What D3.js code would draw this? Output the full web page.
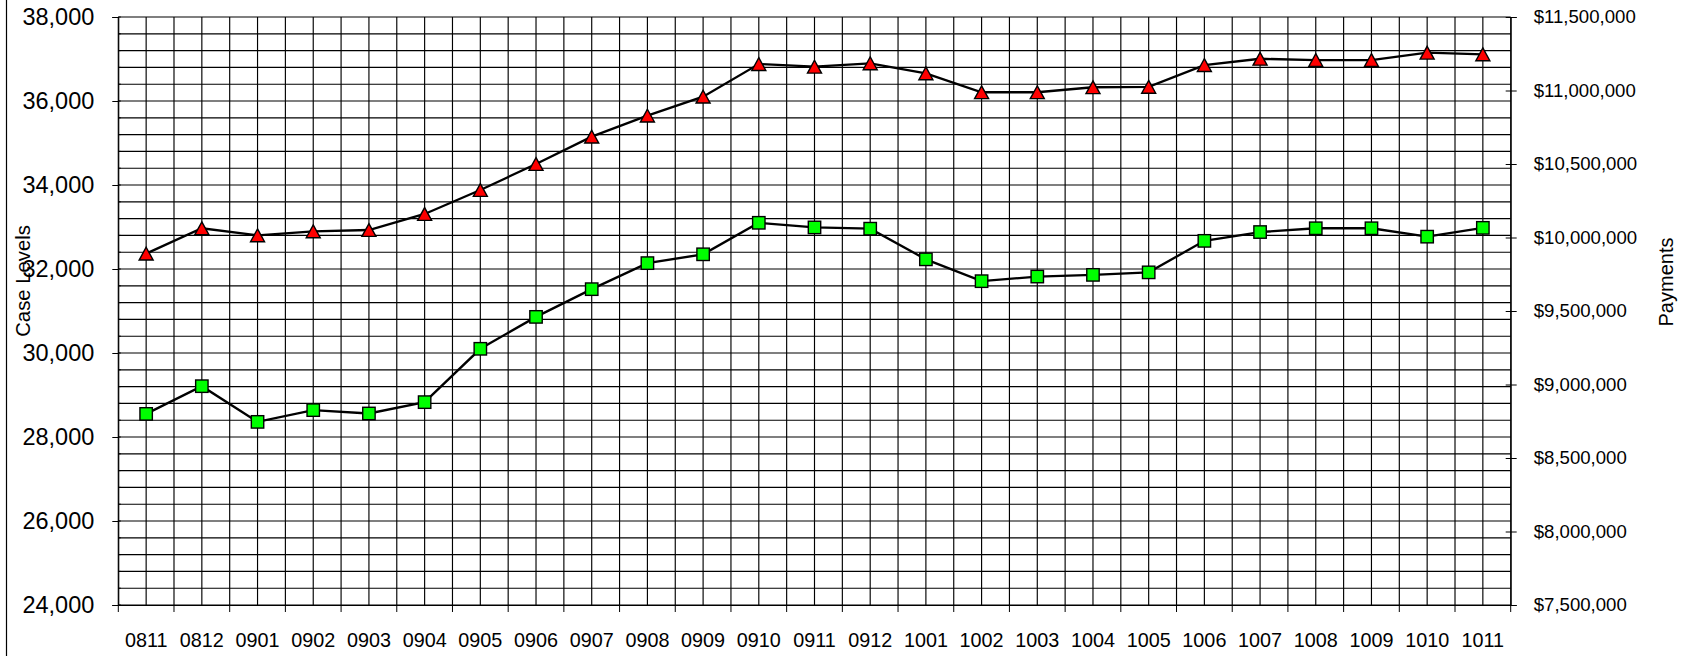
<!DOCTYPE html>
<html>
<head>
<meta charset="utf-8">
<script src="https://cdn.jsdelivr.net/npm/d3@7"></script>
<style>
  html, body { margin: 0; padding: 0; background: #fff; }
  svg { display: block; font-family: "Liberation Sans", Arial, sans-serif; }
</style>
</head>
<body>
<svg id="chart" width="1686" height="656"></svg>
<script>
// ---- data ----
const categories = ["0811","0812","0901","0902","0903","0904","0905","0906","0907","0908","0909","0910","0911","0912","1001","1002","1003","1004","1005","1006","1007","1008","1009","1010","1011"];
// Case levels (left axis, green squares)
const caseLevels = [28550,29210,28360,28640,28560,28830,30100,30860,31520,32140,32350,33100,32990,32960,32230,31710,31820,31860,31920,32670,32880,32970,32970,32770,32980];
// Payments (right axis, red triangles)
const payments = [9890000,10063000,10015000,10042000,10051000,10160000,10323000,10500000,10686000,10829000,10958000,11180000,11162000,11185000,11117000,10988000,10988000,11022000,11025000,11173000,11216000,11207000,11207000,11257000,11246000];
const leftTicks = [24000,26000,28000,30000,32000,34000,36000,38000];
const rightTicks = [7500000,8000000,8500000,9000000,9500000,10000000,10500000,11000000,11500000];
const leftTitle = "Case Levels";
const rightTitle = "Payments";

// ---- layout ----
const plot = {left: 118.3, right: 1510.7, top: 17, bottom: 605};
const svg = d3.select("#chart");

const x = d3.scaleBand().domain(categories).range([plot.left, plot.right]).padding(0);
const bw = x.bandwidth();
const yL = d3.scaleLinear().domain([24000, 38000]).range([plot.bottom, plot.top]);
const yR = d3.scaleLinear().domain([7500000, 11500000]).range([plot.bottom, plot.top]);

// left frame line
svg.append("line").attr("x1", 6.5).attr("x2", 6.5).attr("y1", 0).attr("y2", 656)
  .attr("stroke", "#000").attr("stroke-width", 1.2);

// gridlines
const grid = svg.append("g").attr("stroke", "#000").attr("stroke-width", 1.15);
const vx = [];
categories.forEach(c => { vx.push(x(c)); vx.push(x(c) + bw / 2); });
vx.push(plot.right);
grid.selectAll("line.v").data(vx).join("line").attr("class", "v")
  .attr("x1", d => d).attr("x2", d => d).attr("y1", plot.top).attr("y2", plot.bottom);
const hy = d3.range(24000, 38001, 400);
grid.selectAll("line.h").data(hy).join("line").attr("class", "h")
  .attr("x1", plot.left).attr("x2", plot.right).attr("y1", d => yL(d)).attr("y2", d => yL(d));

// left axis
const axL = svg.append("g").attr("transform", `translate(${plot.left},0)`)
  .call(d3.axisLeft(yL).tickValues(leftTicks).tickSize(6).tickPadding(18).tickFormat(d3.format(",")));
axL.select(".domain").attr("stroke", "#000");
axL.selectAll(".tick line").attr("stroke", "#000");
axL.selectAll("text").attr("font-size", "23.5px").attr("fill", "#000")
  .attr("font-family", '"Liberation Sans", Arial, sans-serif');
// minor inner ticks
svg.append("g").selectAll("line").data(hy).join("line")
  .attr("x1", plot.left).attr("x2", plot.left + 2.5).attr("y1", d => yL(d)).attr("y2", d => yL(d))
  .attr("stroke", "#000").attr("stroke-width", 1);

// right axis
const axR = svg.append("g").attr("transform", `translate(${plot.right},0)`)
  .call(d3.axisRight(yR).tickValues(rightTicks).tickSize(6).tickPadding(17).tickFormat(d3.format("$,")));
axR.select(".domain").attr("stroke", "#000");
axR.selectAll(".tick line").attr("stroke", "#000").attr("x1", -5);
axR.selectAll("text").attr("font-size", "18.6px").attr("fill", "#000")
  .attr("font-family", '"Liberation Sans", Arial, sans-serif');

// bottom axis
const axB = svg.append("g").attr("transform", `translate(0,${plot.bottom})`)
  .call(d3.axisBottom(x).tickSize(0).tickPadding(28));
axB.select(".domain").attr("stroke", "#000");
axB.selectAll("text").attr("font-size", "19.8px").attr("fill", "#000")
  .attr("font-family", '"Liberation Sans", Arial, sans-serif');
// boundary ticks
svg.append("g").selectAll("line").data(categories.map(c => x(c)).concat([plot.right])).join("line")
  .attr("x1", d => d).attr("x2", d => d).attr("y1", plot.bottom).attr("y2", plot.bottom + 7)
  .attr("stroke", "#000");

// titles
svg.append("text").attr("transform", "translate(30,281) rotate(-90)")
  .attr("text-anchor", "middle").attr("font-size", "20.3px").attr("fill", "#000").text(leftTitle);
svg.append("text").attr("transform", "translate(1673,282) rotate(-90)")
  .attr("text-anchor", "middle").attr("font-size", "20px").attr("fill", "#000").text(rightTitle);

const cx = c => x(c) + bw / 2;

// payments line (triangles)
svg.append("path").datum(payments)
  .attr("fill", "none").attr("stroke", "#000").attr("stroke-width", 2.3)
  .attr("d", d3.line().x((d, i) => cx(categories[i])).y(d => yR(d)));
// case levels line (squares)
svg.append("path").datum(caseLevels)
  .attr("fill", "none").attr("stroke", "#000").attr("stroke-width", 2.3)
  .attr("d", d3.line().x((d, i) => cx(categories[i])).y(d => yL(d)));

// triangle markers
svg.append("g").selectAll("path").data(payments).join("path")
  .attr("transform", (d, i) => `translate(${cx(categories[i])},${yR(d)})`)
  .attr("d", "M0,-6.4L7,6.4L-7,6.4Z")
  .attr("fill", "#FF0000").attr("stroke", "#000").attr("stroke-width", 1.4);

// square markers
svg.append("g").selectAll("rect").data(caseLevels).join("rect")
  .attr("x", (d, i) => cx(categories[i]) - 6.2).attr("y", d => yL(d) - 6.2)
  .attr("width", 12.4).attr("height", 12.4)
  .attr("fill", "#00FF00").attr("stroke", "#000").attr("stroke-width", 1.4);
</script>
</body>
</html>
